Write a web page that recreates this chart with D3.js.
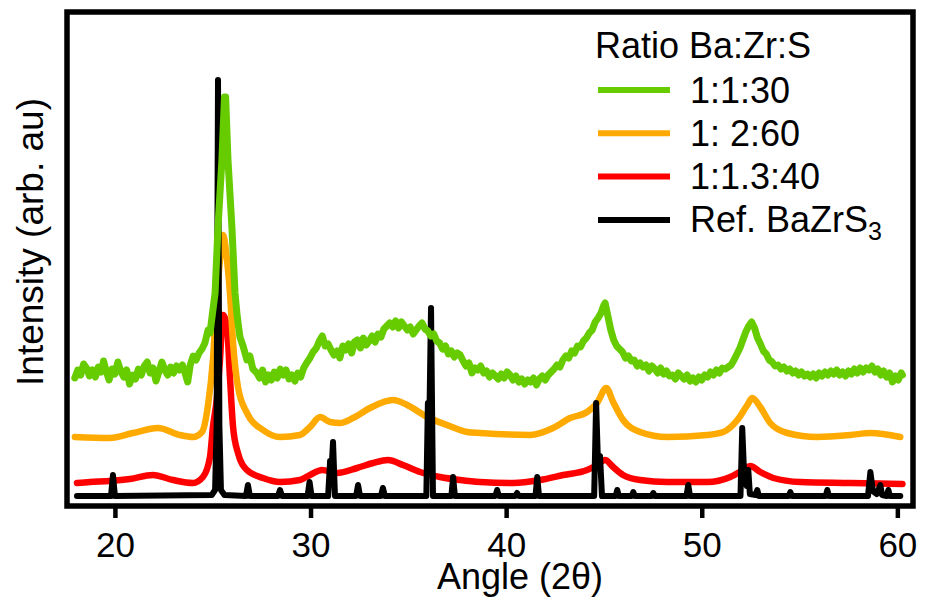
<!DOCTYPE html>
<html>
<head>
<meta charset="utf-8">
<script src="https://cdn.jsdelivr.net/npm/d3@7"></script>
<style>
  body { margin: 0; background: #fff; }
  svg { display: block; font-family: "Liberation Sans", Arial, sans-serif; }
</style>
</head>
<body>
<div id="chart"></div>
<script>
// values: [angle 2θ, intensity (arb.)]
const seriesNames = ["1:1:30", "1: 2:60", "1:1.3:40", "Ref. BaZrS"];
const seriesColors = ["#66cc00", "#ffaa00", "#ff0000", "#000000"];
const seriesWidths = [7, 6.5, 6.5, 6];
const xTicks = [20, 30, 40, 50, 60];

const green = [
  [17.95,128],[18.1,136],[18.25,131],[18.4,142],[18.55,138],[18.7,130],[18.85,136],[19.0,129],[19.15,139],[19.3,134],
  [19.42,145],[19.55,135],[19.7,126],[19.85,137],[20.0,132],[20.15,144],[20.3,135],[20.45,129],[20.6,136],[20.75,122],
  [20.9,131],[21.05,127],[21.2,137],[21.35,131],[21.5,140],[21.65,144],[21.8,133],[21.95,138],[22.1,125],[22.25,134],
  [22.4,144],[22.55,136],[22.7,131],[22.85,139],[23.0,133],[23.15,140],[23.3,136],[23.45,141],[23.6,132],[23.72,124],
  [23.85,141],[24.0,150],[24.15,146],[24.3,153],[24.45,157],[24.6,163],[24.76,176],[24.86,173],[25.12,213],[25.27,279],
  [25.47,346],[25.6,409],[25.66,409],[25.78,346],[25.98,279],[26.14,213],[26.25,190],[26.39,169],[26.55,160],[26.75,146],
  [26.9,150],[27.05,137],[27.26,133],[27.4,128],[27.55,136],[27.7,124],[27.85,131],[28.0,126],[28.15,134],[28.3,128],
  [28.45,137],[28.6,131],[28.75,136],[28.9,127],[29.05,131],[29.2,125],[29.35,133],[29.5,129],[29.65,138],[29.8,143],
  [29.97,148],[30.13,154],[30.3,158],[30.45,165],[30.6,170],[30.75,160],[30.9,162],[31.05,156],[31.2,151],[31.36,155],
  [31.5,148],[31.65,160],[31.8,156],[31.95,162],[32.1,153],[32.25,164],[32.4,166],[32.55,158],[32.7,168],[32.85,161],
  [33.0,165],[33.15,170],[33.3,164],[33.45,172],[33.6,169],[33.75,177],[33.9,180],[34.05,183],[34.2,179],[34.35,185],
  [34.5,178],[34.65,184],[34.8,180],[34.95,176],[35.1,179],[35.25,172],[35.4,176],[35.55,180],[35.7,183],[35.85,177],
  [36.0,175],[36.15,170],[36.3,172],[36.45,165],[36.6,163],[36.75,157],[36.9,160],[37.05,152],[37.2,155],[37.35,149],
  [37.5,153],[37.65,151],[37.8,145],[37.95,140],[38.1,143],[38.25,133],[38.4,138],[38.55,136],[38.7,140],[38.85,133],
  [39.0,135],[39.15,129],[39.3,133],[39.45,130],[39.6,127],[39.75,132],[39.9,128],[40.05,134],[40.2,131],[40.35,126],
  [40.5,130],[40.65,124],[40.8,127],[40.95,122],[41.1,126],[41.25,124],[41.4,128],[41.55,121],[41.7,127],[41.85,130],
  [42.0,126],[42.15,131],[42.3,134],[42.45,137],[42.6,141],[42.75,139],[42.9,146],[43.05,150],[43.2,148],[43.35,155],
  [43.5,153],[43.65,160],[43.8,159],[43.95,165],[44.1,168],[44.25,173],[44.4,176],[44.55,184],[44.7,188],[44.85,193],
  [45.0,201],[45.06,203],[45.2,190],[45.35,176],[45.5,166],[45.65,160],[45.8,157],[45.95,154],[46.1,148],[46.25,150],
  [46.4,145],[46.55,146],[46.7,140],[46.85,143],[47.0,139],[47.15,141],[47.3,135],[47.45,140],[47.6,137],[47.75,133],
  [47.9,138],[48.05,132],[48.2,135],[48.35,130],[48.5,131],[48.65,127],[48.8,133],[48.95,130],[49.1,127],[49.25,131],
  [49.4,125],[49.55,128],[49.7,124],[49.85,129],[50.0,126],[50.15,131],[50.3,129],[50.45,134],[50.6,131],[50.75,136],
  [50.9,133],[51.05,138],[51.2,137],[51.35,139],[51.5,141],[51.65,146],[51.8,152],[51.95,158],[52.1,166],[52.25,174],
  [52.4,180],[52.55,184],[52.7,178],[52.85,168],[53.0,162],[53.15,155],[53.3,152],[53.45,146],[53.6,144],[53.75,140],
  [53.9,141],[54.05,137],[54.2,139],[54.35,135],[54.5,137],[54.65,133],[54.8,135],[54.95,131],[55.1,134],[55.25,130],
  [55.4,132],[55.55,129],[55.7,132],[55.85,128],[56.0,133],[56.15,130],[56.3,134],[56.45,131],[56.6,135],[56.75,132],
  [56.9,136],[57.05,131],[57.2,134],[57.35,130],[57.5,135],[57.65,132],[57.8,137],[57.95,133],[58.1,138],[58.25,134],
  [58.4,138],[58.55,136],[58.7,140],[58.85,134],[59.0,137],[59.15,131],[59.3,135],[59.45,129],[59.6,133],[59.75,124],
  [59.9,130],[60.05,126],[60.2,133],[60.26,131]
];

const orange = [
  [17.95,69],[19.74,68],[20.92,73],[22.2,78],[23.32,71],[23.99,69],[24.45,74],[24.76,101],[25.01,146],[25.22,213],
  [25.37,246],[25.52,271],[25.73,246],[25.88,213],[26.04,163],[26.29,119],[26.75,93],[27.57,76],[28.44,69],[29.46,71],
  [29.97,79],[30.49,89],[31.0,84],[31.51,83],[32.17,88],[33.04,98],[34.22,106],[34.94,101],[35.96,89],[36.98,81],
  [38.0,74],[38.67,73],[41.23,71],[42.4,78],[43.27,88],[44.14,94],[44.65,103],[45.12,118],[45.47,104],[45.98,86],
  [46.85,74],[48.24,69],[50.28,71],[51.1,74],[51.82,86],[52.33,101],[52.58,108],[52.99,99],[53.5,83],[54.37,73],
  [55.91,69],[57.6,71],[58.62,73],[60.15,69]
];

const red = [
  [18.06,23],[18.72,24],[19.74,25],[20.77,27],[21.94,31],[22.97,26],[23.99,23],[24.5,29],[24.86,49],[25.01,79],
  [25.22,109],[25.37,146],[25.52,191],[25.73,179],[25.88,129],[26.04,79],[26.29,53],[26.75,36],[27.57,28],[28.44,24],
  [29.46,26],[29.97,31],[30.59,36],[31.36,33],[32.38,38],[33.2,43],[33.96,46],[34.73,41],[35.6,34],[36.62,29],
  [37.65,26],[38.67,24],[40.36,23],[41.74,26],[42.92,31],[44.14,36],[44.65,41],[45.06,46],[45.47,39],[45.98,31],
  [46.85,26],[48.24,24],[50.28,24],[51.46,29],[52.12,36],[52.48,40],[52.99,34],[53.66,28],[55.04,24],[57.6,23],
  [60.26,22]
];

const reference = [
  [18.06,10],[19.8,10],[19.9,31],[20.0,10],[24.95,11],[25.12,16],[25.2,80],[25.27,426],[25.34,80],[25.42,16],
  [25.6,11],[26.7,10],[26.8,21],[26.9,10],[28.34,10],[28.44,16],[28.54,10],[29.85,10],[29.95,24],[30.05,10],
  [30.9,10],[31.0,45],[31.07,35],[31.15,64],[31.25,10],[32.33,10],[32.43,21],[32.53,10],[33.6,10],[33.7,18],
  [33.8,10],[35.92,10],[36.0,103],[36.07,80],[36.16,198],[36.26,10],[37.2,10],[37.29,29],[37.38,10],[39.45,10],
  [39.54,16],[39.63,10],[40.47,10],[40.56,13],[40.65,10],[41.5,10],[41.59,29],[41.68,10],[44.5,10],[44.6,103],
  [44.7,40],[44.8,50],[44.9,10],[45.6,10],[45.68,16],[45.76,10],[46.42,10],[46.5,14],[46.58,10],[47.45,10],
  [47.52,13],[47.6,10],[49.22,10],[49.31,21],[49.4,10],[51.98,10],[52.07,78],[52.17,30],[52.3,20],[52.38,36],
  [52.46,12],[52.76,11],[52.84,16],[52.92,10],[54.45,10],[54.53,14],[54.61,10],[56.34,10],[56.42,16],[56.5,10],
  [58.5,10],[58.62,34],[58.75,15],[58.95,12],[59.13,21],[59.22,11],[59.46,10],[59.54,16],[59.62,10],[60.15,10]
];

const series = [green, orange, red, reference];

const W = 927, H = 598;
const frame = { left: 67, right: 913, top: 12, bottom: 506 };

const svg = d3.select("#chart").append("svg")
  .attr("width", W)
  .attr("height", H);

const x = d3.scaleLinear().domain([17.55, 60.8]).range([frame.left, frame.right]);
const y = d3.scaleLinear().domain([0, 494]).range([frame.bottom, frame.top]);

// draw order: red, orange, reference, green
const smooth = d3.line().x(d => x(d[0])).y(d => y(d[1])).curve(d3.curveMonotoneX);
const sharp = d3.line().x(d => x(d[0])).y(d => y(d[1]));

[2, 1, 3, 0].forEach(i => {
  svg.append("path")
    .datum(series[i])
    .attr("d", (i === 1 || i === 2) ? smooth : sharp)
    .attr("fill", "none")
    .attr("stroke", seriesColors[i])
    .attr("stroke-width", seriesWidths[i])
    .attr("stroke-linejoin", "round")
    .attr("stroke-linecap", "round");
});

// frame
svg.append("rect")
  .attr("x", frame.left)
  .attr("y", frame.top)
  .attr("width", frame.right - frame.left)
  .attr("height", frame.bottom - frame.top)
  .attr("fill", "none")
  .attr("stroke", "#000")
  .attr("stroke-width", 5.5);

const xAxis = d3.axisBottom(x).tickValues(xTicks).tickSize(10).tickPadding(14).tickSizeOuter(0);
const gx = svg.append("g")
  .attr("transform", `translate(0,${frame.bottom + 2})`)
  .call(xAxis);
gx.select(".domain").remove();
gx.selectAll(".tick line").attr("stroke", "#000").attr("stroke-width", 4.5);
gx.selectAll(".tick text")
  .attr("fill", "#000")
  .style("font-size", "35px")
  .style("font-family", "'Liberation Sans', Arial, sans-serif");

svg.append("text")
  .attr("x", 520)
  .attr("y", 589)
  .attr("text-anchor", "middle")
  .style("font-size", "36px")
  .text("Angle (2θ)");

svg.append("text")
  .attr("transform", "translate(43,242) rotate(-90)")
  .attr("text-anchor", "middle")
  .style("font-size", "37px")
  .text("Intensity (arb. au)");

// legend
const legend = svg.append("g");
legend.append("text")
  .attr("x", 595)
  .attr("y", 58)
  .style("font-size", "36px")
  .text("Ratio Ba:Zr:S");

seriesNames.forEach((name, i) => {
  const cy = 90 + i * 43.3;
  legend.append("line")
    .attr("x1", 598).attr("x2", 670)
    .attr("y1", cy).attr("y2", cy)
    .attr("stroke", seriesColors[i])
    .attr("stroke-width", 6);
  const t = legend.append("text")
    .attr("x", 690)
    .attr("y", cy + 12.5)
    .style("font-size", "36px")
    .text(name);
  if (i === 3) {
    t.append("tspan").attr("dy", 8).style("font-size", "25px").text("3");
  }
});
</script>
</body>
</html>
